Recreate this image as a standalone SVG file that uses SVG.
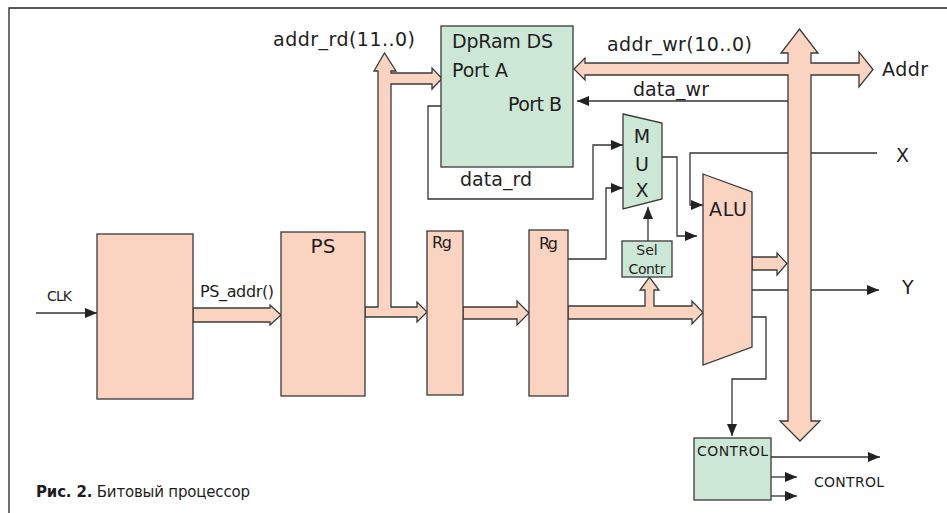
<svg xmlns="http://www.w3.org/2000/svg" width="947" height="513" viewBox="0 0 947 513">
<style>
.bg{fill:#ffffff}
.frame{fill:none;stroke:#222;stroke-width:1.3}
.sal{fill:#FBD3C1;stroke:#3a3a3a;stroke-width:1.3;stroke-linejoin:miter}
.grn{fill:#CDE7D6;stroke:#3a3a3a;stroke-width:1.3}
.ln{fill:none;stroke:#333;stroke-width:1.3}
.arr{marker-end:url(#ah)}
text{font-family:"DejaVu Sans","Liberation Sans",sans-serif;fill:#1e1e1e}
.t19{font-size:19px}
.t16{font-size:16px}
.t14{font-size:14px}
</style>
<defs>
<marker id="ah" markerUnits="userSpaceOnUse" markerWidth="12" markerHeight="10" refX="12" refY="5" orient="auto">
<path d="M0,0 L12,5 L0,10 z" fill="#222"/>
</marker>
</defs>
<rect class="bg" x="0" y="0" width="947" height="513"/>
<path class="frame" d="M9,513 L9,8 L947,8"/>

<g id="connectors">
<polyline class="ln arr" points="36,313 97,313"/>
<polyline class="ln arr" points="441,106 428,106 428,199 593,199 593,145 623,145"/>
<polyline class="ln arr" points="568,259 606,259 606,188 623,188"/>
<polyline class="ln arr" points="662,157 677,157 677,236 697,236"/>
<polyline class="ln arr" points="877,153 690,153 690,205 703,205"/>
<polyline class="ln arr" points="752,290 879,290"/>
<polyline class="ln arr" points="752,317 766,317 766,379 732,379 732,436"/>
<polyline class="ln arr" points="648,241 648,207"/>
<polyline class="ln arr" points="788,101 577,101"/>
<polyline class="ln arr" points="771,457 880,457"/>
<polyline class="ln arr" points="771,477 797,477"/>
<polyline class="ln arr" points="771,496 797,496"/>
<polygon class="sal" points="193,308 270,308 270,305 281,315 270,325 270,322 193,322"/>
<polygon class="sal" points="365,307 378,307 378,71 374,71 384.5,53 396,71 391,71 391,73 432,73 432,68 442,78.5 432,89 432,84 391,84 391,307 417,307 417,302 427,312 417,322 417,317 365,317"/>
<polygon class="sal" points="463,307 517,307 517,301 529,313 517,325 517,319 463,319"/>
<polygon class="sal" points="568,306 645,306 645,290 640,290 649.5,277 659,290 654,290 654,306 692,306 692,301 703,312.5 692,324 692,319 568,319"/>
<polygon class="sal" points="752,257 777,257 777,253 787,263.5 777,275 777,270 752,270"/>
<polygon class="sal" points="799.5,29 818,53 811,53 811,63 859,63 859,52 873,69.5 859,87 859,75 811,75 811,421 820,421 800,441 780,421 788,421 788,75 585,75 585,80 574,69 585,58 585,63 788,63 788,53 781,53"/>
</g>

<g id="clkgen">
<rect class="sal" x="97" y="234" width="96" height="165"/>
</g>
<g id="ps">
<rect class="sal" x="281" y="232" width="84" height="164"/>
<text x="323" y="253" font-size="20" text-anchor="middle">PS</text>
</g>
<g id="rg1">
<rect class="sal" x="427" y="231" width="36" height="164"/>
<text class="t16" x="432" y="248" textLength="20">Rg</text>
</g>
<g id="rg2">
<rect class="sal" x="529" y="230" width="39" height="166"/>
<text class="t16" x="539" y="249" textLength="19">Rg</text>
</g>
<g id="dpram">
<rect class="grn" x="441" y="26" width="132" height="141"/>
<text class="t19" x="452" y="48" textLength="101">DpRam DS</text>
<text class="t19" x="452" y="77" textLength="56">Port A</text>
<text class="t19" x="508" y="111" textLength="54">Port B</text>
</g>
<g id="mux">
<polygon class="grn" points="623,114 662,123 662,199 623,209"/>
<text class="t19" x="642" y="143" text-anchor="middle">M</text>
<text class="t19" x="642" y="171" text-anchor="middle">U</text>
<text class="t19" x="642" y="197" text-anchor="middle">X</text>
</g>
<g id="selcontr">
<rect class="grn" x="622" y="241" width="50" height="36"/>
<text class="t14" x="647" y="255" text-anchor="middle">Sel</text>
<text class="t14" x="647" y="274" text-anchor="middle" textLength="37">Contr</text>
</g>
<g id="alu">
<polygon class="sal" points="703,174 752,192 752,347 703,365"/>
<text class="t19" x="709" y="216" textLength="38">ALU</text>
</g>
<g id="control">
<rect class="grn" x="694" y="438" width="77" height="62"/>
<text class="t14" x="697" y="456" textLength="71">CONTROL</text>
</g>

<g id="labels">
<text class="t19" x="273" y="46" textLength="142">addr_rd(11..0)</text>
<text class="t19" x="460" y="186" textLength="72">data_rd</text>
<text class="t19" x="607" y="51" textLength="145">addr_wr(10..0)</text>
<text class="t19" x="882" y="76" textLength="46">Addr</text>
<text class="t19" x="633" y="96" textLength="76">data_wr</text>
<text class="t19" x="896" y="162">X</text>
<text class="t19" x="902" y="294">Y</text>
<text class="t14" x="47" y="301" textLength="25">CLK</text>
<text class="t16" x="200" y="297" textLength="74">PS_addr()</text>
<text class="t14" x="814" y="487" textLength="70">CONTROL</text>
<text x="36" y="497" font-size="15" textLength="214"><tspan font-weight="bold">Рис. 2.</tspan> Битовый процессор</text>
</g>
</svg>
